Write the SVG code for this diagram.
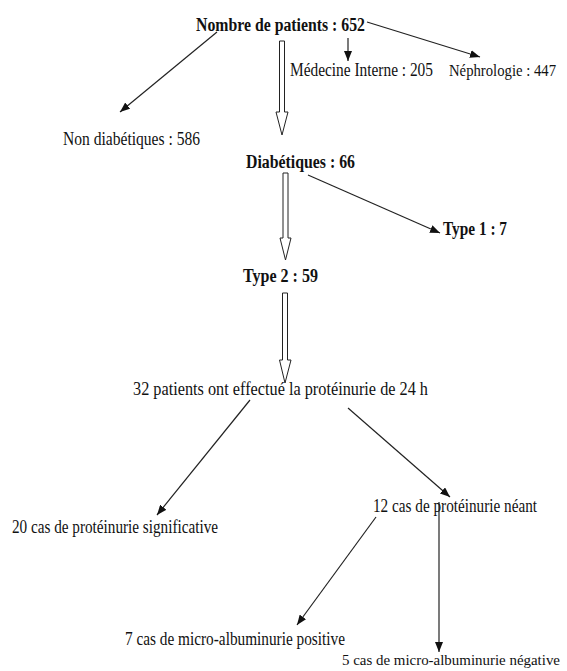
<svg xmlns="http://www.w3.org/2000/svg" width="567" height="671" viewBox="0 0 567 671">
<style>
text{font-family:"Liberation Serif","Times New Roman",serif;font-size:18px;fill:#111;}
.b{font-weight:bold;}
.s{font-size:16px;}
.t{font-size:15px;}
.ln{stroke:#222;stroke-width:1.2;fill:none;marker-end:url(#ah);}
.hol{fill:#fff;stroke:#222;stroke-width:1;}
</style>
<defs>
<marker id="ah" markerWidth="10" markerHeight="8" refX="10" refY="4" orient="auto" markerUnits="userSpaceOnUse">
<path d="M0,0 L10,4 L0,8 Z" fill="#111"/>
</marker>
</defs>
<rect width="567" height="671" fill="#fff"/>
<g id="connectors">
<line class="ln" x1="217" y1="32" x2="120" y2="112"/>
<line class="ln" x1="348" y1="38" x2="348" y2="61"/>
<line class="ln" x1="367" y1="22" x2="480" y2="57"/>
<polygon class="hol" points="279.5,41 284.5,41 284.5,112 288,112 282,135 276,112 279.5,112"/>
<line class="ln" x1="308" y1="175" x2="440" y2="233"/>
<polygon class="hol" points="283,173 288,173 288,238 291,238 285.5,260 280,238 283,238"/>
<polygon class="hol" points="282.5,293 287.5,293 287.5,360 291,360 285,383 279.5,360 282.5,360"/>
<line class="ln" x1="250" y1="400" x2="157" y2="515"/>
<line class="ln" x1="348" y1="408" x2="450" y2="497"/>
<line class="ln" x1="376" y1="517" x2="297" y2="625"/>
<line class="ln" x1="439" y1="502" x2="439" y2="652"/>
</g>
<g id="n-total"><text class="b" x="196" y="31" textLength="169" lengthAdjust="spacingAndGlyphs">Nombre de patients : 652</text></g>
<g id="n-medecine"><text x="290" y="76" textLength="143" lengthAdjust="spacingAndGlyphs">Médecine Interne : 205</text></g>
<g id="n-nephro"><text class="s" x="449" y="76" textLength="107" lengthAdjust="spacingAndGlyphs">Néphrologie : 447</text></g>
<g id="n-nondiab"><text x="63" y="145" textLength="137" lengthAdjust="spacingAndGlyphs">Non diabétiques : 586</text></g>
<g id="n-diab"><text class="b" x="246" y="168" textLength="109" lengthAdjust="spacingAndGlyphs">Diabétiques : 66</text></g>
<g id="n-type1"><text class="b" x="443" y="235" textLength="64" lengthAdjust="spacingAndGlyphs">Type 1 : 7</text></g>
<g id="n-type2"><text class="b" x="243" y="282" textLength="75" lengthAdjust="spacingAndGlyphs">Type 2 : 59</text></g>
<g id="n-32"><text x="133" y="395" textLength="295" lengthAdjust="spacingAndGlyphs">32 patients ont effectué la protéinurie de 24 h</text></g>
<g id="n-20"><text x="12" y="533" textLength="206" lengthAdjust="spacingAndGlyphs">20 cas de protéinurie significative</text></g>
<g id="n-12"><text x="373" y="512" textLength="164" lengthAdjust="spacingAndGlyphs">12 cas de protéinurie néant</text></g>
<g id="n-7"><text x="125" y="645" textLength="220" lengthAdjust="spacingAndGlyphs">7 cas de micro-albuminurie positive</text></g>
<g id="n-5"><text class="t" x="342" y="665" textLength="218" lengthAdjust="spacingAndGlyphs">5 cas de micro-albuminurie négative</text></g>
</svg>
